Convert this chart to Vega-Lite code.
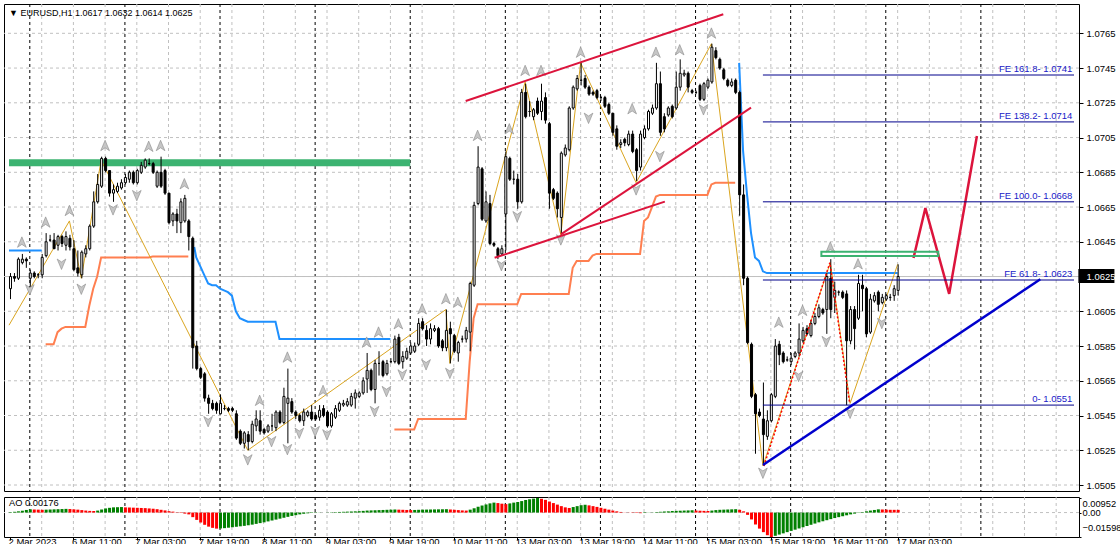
{
"$schema": "https://vega.github.io/schema/vega-lite/v6.json",
"padding": {"left": 3, "top": 3, "right": 0, "bottom": 0},
"background": "white",
"config": {
  "view": {"stroke": "#000000", "strokeWidth": 1},
  "concat": {"spacing": 4},
  "axis": {"labelFont": "Liberation Sans", "labelFontSize": 9.5, "labelColor": "#000000", "tickColor": "#000000", "domain": false, "grid": false, "labelFlush": false, "labelOverlap": false, "labelBound": false}
},
"resolve": {"scale": {"x": "independent", "y": "independent", "color": "independent"}},
"datasets": {
  "hgrid": [{"p":1.0505},{"p":1.0525},{"p":1.0545},{"p":1.0565},{"p":1.0585},{"p":1.0605},{"p":1.0625},{"p":1.0645},{"p":1.0665},{"p":1.0685},{"p":1.0705},{"p":1.0725},{"p":1.0745},{"p":1.0765}],
  "vgrid": [{"i":8},{"i":16},{"i":24},{"i":32},{"i":40},{"i":48},{"i":56},{"i":64},{"i":72},{"i":80},{"i":88},{"i":96},{"i":104},{"i":112},{"i":120},{"i":128},{"i":136},{"i":144},{"i":152},{"i":160},{"i":168},{"i":176},{"i":184},{"i":192},{"i":200},{"i":208},{"i":216},{"i":224},{"i":232},{"i":240},{"i":248},{"i":256},{"i":264}],
  "sep": [{"i":5},{"i":29},{"i":53},{"i":77},{"i":101},{"i":125},{"i":149},{"i":173},{"i":197},{"i":221},{"i":245}],
  "candles": [
{"i":0,"o":1.0618,"h":1.0627,"l":1.0612,"c":1.0625},
{"i":1,"o":1.0625,"h":1.0627,"l":1.0622,"c":1.0624},
{"i":2,"o":1.0624,"h":1.0636,"l":1.0623,"c":1.0635},
{"i":3,"o":1.0633,"h":1.0638,"l":1.0632,"c":1.0635},
{"i":4,"o":1.0635,"h":1.0636,"l":1.0630,"c":1.0634},
{"i":5,"o":1.0624,"h":1.0629,"l":1.0619,"c":1.0627},
{"i":6,"o":1.0627,"h":1.0628,"l":1.0624,"c":1.0625},
{"i":7,"o":1.0626,"h":1.0627,"l":1.0624,"c":1.0626},
{"i":8,"o":1.0626,"h":1.0638,"l":1.0624,"c":1.0636},
{"i":9,"o":1.0637,"h":1.0650,"l":1.0636,"c":1.0645},
{"i":10,"o":1.0646,"h":1.0649,"l":1.0645,"c":1.0646},
{"i":11,"o":1.0646,"h":1.0650,"l":1.0641,"c":1.0641},
{"i":12,"o":1.0643,"h":1.0649,"l":1.0640,"c":1.0648},
{"i":13,"o":1.0648,"h":1.0649,"l":1.0642,"c":1.0644},
{"i":14,"o":1.0643,"h":1.0651,"l":1.0640,"c":1.0648},
{"i":15,"o":1.0647,"h":1.0649,"l":1.0640,"c":1.0642},
{"i":16,"o":1.0641,"h":1.0646,"l":1.0628,"c":1.0629},
{"i":17,"o":1.0630,"h":1.0640,"l":1.0625,"c":1.0627},
{"i":18,"o":1.0626,"h":1.0640,"l":1.0624,"c":1.0639},
{"i":19,"o":1.0638,"h":1.0643,"l":1.0636,"c":1.0641},
{"i":20,"o":1.0641,"h":1.0655,"l":1.0640,"c":1.0654},
{"i":21,"o":1.0654,"h":1.0674,"l":1.0653,"c":1.0668},
{"i":22,"o":1.0668,"h":1.0684,"l":1.0667,"c":1.0678},
{"i":23,"o":1.0677,"h":1.0694,"l":1.0676,"c":1.0693},
{"i":24,"o":1.0693,"h":1.0694,"l":1.0685,"c":1.0686},
{"i":25,"o":1.0686,"h":1.0686,"l":1.0671,"c":1.0673},
{"i":26,"o":1.0673,"h":1.0678,"l":1.0668,"c":1.0675},
{"i":27,"o":1.0674,"h":1.0679,"l":1.0673,"c":1.0677},
{"i":28,"o":1.0676,"h":1.0681,"l":1.0675,"c":1.0679},
{"i":29,"o":1.0679,"h":1.0684,"l":1.0678,"c":1.0682},
{"i":30,"o":1.0681,"h":1.0686,"l":1.0679,"c":1.0685},
{"i":31,"o":1.0685,"h":1.0686,"l":1.0678,"c":1.0679},
{"i":32,"o":1.0679,"h":1.0687,"l":1.0678,"c":1.0686},
{"i":33,"o":1.0685,"h":1.0691,"l":1.0684,"c":1.0689},
{"i":34,"o":1.0688,"h":1.0693,"l":1.0687,"c":1.0692},
{"i":35,"o":1.0690,"h":1.0693,"l":1.0689,"c":1.0690},
{"i":36,"o":1.0690,"h":1.0691,"l":1.0684,"c":1.0685},
{"i":37,"o":1.0677,"h":1.0686,"l":1.0676,"c":1.0685},
{"i":38,"o":1.0685,"h":1.0694,"l":1.0676,"c":1.0677},
{"i":39,"o":1.0686,"h":1.0687,"l":1.0672,"c":1.0673},
{"i":40,"o":1.0673,"h":1.0673,"l":1.0655,"c":1.0656},
{"i":41,"o":1.0657,"h":1.0662,"l":1.0654,"c":1.0661},
{"i":42,"o":1.0661,"h":1.0664,"l":1.0650,"c":1.0657},
{"i":43,"o":1.0656,"h":1.0670,"l":1.0650,"c":1.0668},
{"i":44,"o":1.0657,"h":1.0672,"l":1.0656,"c":1.0670},
{"i":45,"o":1.0657,"h":1.0658,"l":1.0640,"c":1.0648},
{"i":46,"o":1.0647,"h":1.0648,"l":1.0572,"c":1.0584},
{"i":47,"o":1.0585,"h":1.0588,"l":1.0571,"c":1.0572},
{"i":48,"o":1.0572,"h":1.0573,"l":1.0566,"c":1.0567},
{"i":49,"o":1.0569,"h":1.0570,"l":1.0553,"c":1.0555},
{"i":50,"o":1.0555,"h":1.0557,"l":1.0546,"c":1.0552},
{"i":51,"o":1.0552,"h":1.0554,"l":1.0548,"c":1.0549},
{"i":52,"o":1.0552,"h":1.0553,"l":1.0546,"c":1.0548},
{"i":53,"o":1.0546,"h":1.0557,"l":1.0546,"c":1.0552},
{"i":54,"o":1.0549,"h":1.0551,"l":1.0548,"c":1.0549},
{"i":55,"o":1.0549,"h":1.0550,"l":1.0547,"c":1.0548},
{"i":56,"o":1.0549,"h":1.0550,"l":1.0547,"c":1.0548},
{"i":57,"o":1.0546,"h":1.0548,"l":1.0531,"c":1.0532},
{"i":58,"o":1.0536,"h":1.0537,"l":1.0528,"c":1.0529},
{"i":59,"o":1.0529,"h":1.0536,"l":1.0526,"c":1.0535},
{"i":60,"o":1.0534,"h":1.0536,"l":1.0525,"c":1.0530},
{"i":61,"o":1.0530,"h":1.0542,"l":1.0529,"c":1.0540},
{"i":62,"o":1.0539,"h":1.0548,"l":1.0536,"c":1.0543},
{"i":63,"o":1.0542,"h":1.0548,"l":1.0534,"c":1.0536},
{"i":64,"o":1.0537,"h":1.0538,"l":1.0534,"c":1.0535},
{"i":65,"o":1.0536,"h":1.0540,"l":1.0535,"c":1.0539},
{"i":66,"o":1.0539,"h":1.0546,"l":1.0536,"c":1.0539},
{"i":67,"o":1.0538,"h":1.0548,"l":1.0536,"c":1.0547},
{"i":68,"o":1.0547,"h":1.0548,"l":1.0540,"c":1.0541},
{"i":69,"o":1.0541,"h":1.0561,"l":1.0540,"c":1.0556},
{"i":70,"o":1.0552,"h":1.0572,"l":1.0529,"c":1.0555},
{"i":71,"o":1.0553,"h":1.0555,"l":1.0546,"c":1.0547},
{"i":72,"o":1.0547,"h":1.0548,"l":1.0543,"c":1.0545},
{"i":73,"o":1.0545,"h":1.0546,"l":1.0541,"c":1.0542},
{"i":74,"o":1.0542,"h":1.0549,"l":1.0539,"c":1.0547},
{"i":75,"o":1.0545,"h":1.0548,"l":1.0544,"c":1.0547},
{"i":76,"o":1.0547,"h":1.0551,"l":1.0542,"c":1.0543},
{"i":77,"o":1.0545,"h":1.0546,"l":1.0542,"c":1.0543},
{"i":78,"o":1.0544,"h":1.0551,"l":1.0542,"c":1.0548},
{"i":79,"o":1.0549,"h":1.0551,"l":1.0544,"c":1.0545},
{"i":80,"o":1.0547,"h":1.0548,"l":1.0538,"c":1.0539},
{"i":81,"o":1.0539,"h":1.0547,"l":1.0538,"c":1.0546},
{"i":82,"o":1.0544,"h":1.0551,"l":1.0543,"c":1.0549},
{"i":83,"o":1.0548,"h":1.0553,"l":1.0547,"c":1.0552},
{"i":84,"o":1.0551,"h":1.0554,"l":1.0550,"c":1.0552},
{"i":85,"o":1.0551,"h":1.0555,"l":1.0550,"c":1.0553},
{"i":86,"o":1.0551,"h":1.0558,"l":1.0550,"c":1.0556},
{"i":87,"o":1.0555,"h":1.0560,"l":1.0549,"c":1.0558},
{"i":88,"o":1.0556,"h":1.0559,"l":1.0555,"c":1.0558},
{"i":89,"o":1.0558,"h":1.0567,"l":1.0557,"c":1.0565},
{"i":90,"o":1.0566,"h":1.0581,"l":1.0558,"c":1.0571},
{"i":91,"o":1.0571,"h":1.0572,"l":1.0559,"c":1.0560},
{"i":92,"o":1.0560,"h":1.0577,"l":1.0552,"c":1.0575},
{"i":93,"o":1.0575,"h":1.0582,"l":1.0568,"c":1.0575},
{"i":94,"o":1.0576,"h":1.0577,"l":1.0567,"c":1.0568},
{"i":95,"o":1.0569,"h":1.0577,"l":1.0568,"c":1.0575},
{"i":96,"o":1.0576,"h":1.0578,"l":1.0575,"c":1.0576},
{"i":97,"o":1.0576,"h":1.0591,"l":1.0575,"c":1.0589},
{"i":98,"o":1.0590,"h":1.0592,"l":1.0574,"c":1.0575},
{"i":99,"o":1.0576,"h":1.0582,"l":1.0572,"c":1.0579},
{"i":100,"o":1.0578,"h":1.0584,"l":1.0577,"c":1.0582},
{"i":101,"o":1.0581,"h":1.0587,"l":1.0580,"c":1.0585},
{"i":102,"o":1.0582,"h":1.0587,"l":1.0581,"c":1.0585},
{"i":103,"o":1.0586,"h":1.0601,"l":1.0585,"c":1.0598},
{"i":104,"o":1.0599,"h":1.0601,"l":1.0594,"c":1.0595},
{"i":105,"o":1.0594,"h":1.0597,"l":1.0585,"c":1.0589},
{"i":106,"o":1.0589,"h":1.0598,"l":1.0586,"c":1.0595},
{"i":107,"o":1.0594,"h":1.0597,"l":1.0593,"c":1.0595},
{"i":108,"o":1.0595,"h":1.0596,"l":1.0584,"c":1.0585},
{"i":109,"o":1.0588,"h":1.0589,"l":1.0582,"c":1.0584},
{"i":110,"o":1.0584,"h":1.0606,"l":1.0582,"c":1.0594},
{"i":111,"o":1.0595,"h":1.0599,"l":1.0575,"c":1.0592},
{"i":112,"o":1.0591,"h":1.0592,"l":1.0581,"c":1.0582},
{"i":113,"o":1.0581,"h":1.0588,"l":1.0576,"c":1.0587},
{"i":114,"o":1.0589,"h":1.0591,"l":1.0587,"c":1.0589},
{"i":115,"o":1.0589,"h":1.0596,"l":1.0587,"c":1.0594},
{"i":116,"o":1.0593,"h":1.0622,"l":1.0582,"c":1.0621},
{"i":117,"o":1.0620,"h":1.0668,"l":1.0619,"c":1.0666},
{"i":118,"o":1.0667,"h":1.0700,"l":1.0666,"c":1.0688},
{"i":119,"o":1.0687,"h":1.0688,"l":1.0657,"c":1.0658},
{"i":120,"o":1.0657,"h":1.0674,"l":1.0656,"c":1.0668},
{"i":121,"o":1.0667,"h":1.0672,"l":1.0643,"c":1.0644},
{"i":122,"o":1.0644,"h":1.0645,"l":1.0642,"c":1.0643},
{"i":123,"o":1.0641,"h":1.0642,"l":1.0635,"c":1.0637},
{"i":124,"o":1.0638,"h":1.0643,"l":1.0637,"c":1.0641},
{"i":125,"o":1.0661,"h":1.0697,"l":1.0640,"c":1.0694},
{"i":126,"o":1.0693,"h":1.0694,"l":1.0680,"c":1.0681},
{"i":127,"o":1.0681,"h":1.0686,"l":1.0678,"c":1.0681},
{"i":128,"o":1.0681,"h":1.0684,"l":1.0664,"c":1.0668},
{"i":129,"o":1.0668,"h":1.0733,"l":1.0667,"c":1.0731},
{"i":130,"o":1.0731,"h":1.0736,"l":1.0716,"c":1.0717},
{"i":131,"o":1.0720,"h":1.0726,"l":1.0717,"c":1.0720},
{"i":132,"o":1.0717,"h":1.0722,"l":1.0715,"c":1.0721},
{"i":133,"o":1.0726,"h":1.0728,"l":1.0718,"c":1.0719},
{"i":134,"o":1.0720,"h":1.0736,"l":1.0715,"c":1.0726},
{"i":135,"o":1.0728,"h":1.0731,"l":1.0713,"c":1.0715},
{"i":136,"o":1.0713,"h":1.0714,"l":1.0664,"c":1.0673},
{"i":137,"o":1.0675,"h":1.0676,"l":1.0669,"c":1.0670},
{"i":138,"o":1.0673,"h":1.0674,"l":1.0659,"c":1.0664},
{"i":139,"o":1.0659,"h":1.0697,"l":1.0650,"c":1.0696},
{"i":140,"o":1.0695,"h":1.0701,"l":1.0694,"c":1.0699},
{"i":141,"o":1.0698,"h":1.0723,"l":1.0697,"c":1.0722},
{"i":142,"o":1.0722,"h":1.0735,"l":1.0721,"c":1.0734},
{"i":143,"o":1.0733,"h":1.0741,"l":1.0732,"c":1.0739},
{"i":144,"o":1.0738,"h":1.0748,"l":1.0735,"c":1.0738},
{"i":145,"o":1.0739,"h":1.0741,"l":1.0733,"c":1.0734},
{"i":146,"o":1.0734,"h":1.0735,"l":1.0729,"c":1.0730},
{"i":147,"o":1.0731,"h":1.0732,"l":1.0729,"c":1.0730},
{"i":148,"o":1.0732,"h":1.0733,"l":1.0727,"c":1.0728},
{"i":149,"o":1.0728,"h":1.0729,"l":1.0726,"c":1.0728},
{"i":150,"o":1.0728,"h":1.0729,"l":1.0722,"c":1.0723},
{"i":151,"o":1.0724,"h":1.0725,"l":1.0718,"c":1.0719},
{"i":152,"o":1.0719,"h":1.0719,"l":1.0706,"c":1.0708},
{"i":153,"o":1.0710,"h":1.0712,"l":1.0698,"c":1.0700},
{"i":154,"o":1.0701,"h":1.0704,"l":1.0699,"c":1.0702},
{"i":155,"o":1.0704,"h":1.0705,"l":1.0700,"c":1.0702},
{"i":156,"o":1.0701,"h":1.0709,"l":1.0700,"c":1.0707},
{"i":157,"o":1.0707,"h":1.0709,"l":1.0696,"c":1.0697},
{"i":158,"o":1.0698,"h":1.0699,"l":1.0680,"c":1.0686},
{"i":159,"o":1.0688,"h":1.0709,"l":1.0686,"c":1.0707},
{"i":160,"o":1.0705,"h":1.0712,"l":1.0704,"c":1.0710},
{"i":161,"o":1.0710,"h":1.0721,"l":1.0709,"c":1.0720},
{"i":162,"o":1.0719,"h":1.0724,"l":1.0718,"c":1.0722},
{"i":163,"o":1.0722,"h":1.0748,"l":1.0721,"c":1.0736},
{"i":164,"o":1.0736,"h":1.0743,"l":1.0706,"c":1.0708},
{"i":165,"o":1.0717,"h":1.0719,"l":1.0708,"c":1.0710},
{"i":166,"o":1.0718,"h":1.0723,"l":1.0717,"c":1.0722},
{"i":167,"o":1.0723,"h":1.0724,"l":1.0716,"c":1.0717},
{"i":168,"o":1.0722,"h":1.0743,"l":1.0721,"c":1.0734},
{"i":169,"o":1.0734,"h":1.0750,"l":1.0732,"c":1.0742},
{"i":170,"o":1.0741,"h":1.0744,"l":1.0740,"c":1.0742},
{"i":171,"o":1.0742,"h":1.0743,"l":1.0731,"c":1.0734},
{"i":172,"o":1.0732,"h":1.0733,"l":1.0730,"c":1.0731},
{"i":173,"o":1.0731,"h":1.0732,"l":1.0730,"c":1.0731},
{"i":174,"o":1.0735,"h":1.0736,"l":1.0726,"c":1.0727},
{"i":175,"o":1.0727,"h":1.0737,"l":1.0726,"c":1.0736},
{"i":176,"o":1.0734,"h":1.0739,"l":1.0733,"c":1.0738},
{"i":177,"o":1.0737,"h":1.0759,"l":1.0736,"c":1.0757},
{"i":178,"o":1.0755,"h":1.0757,"l":1.0750,"c":1.0751},
{"i":179,"o":1.0750,"h":1.0751,"l":1.0744,"c":1.0745},
{"i":180,"o":1.0744,"h":1.0745,"l":1.0738,"c":1.0739},
{"i":181,"o":1.0738,"h":1.0739,"l":1.0734,"c":1.0735},
{"i":182,"o":1.0735,"h":1.0739,"l":1.0734,"c":1.0737},
{"i":183,"o":1.0738,"h":1.0739,"l":1.0730,"c":1.0731},
{"i":184,"o":1.0731,"h":1.0732,"l":1.0660,"c":1.0672},
{"i":185,"o":1.0672,"h":1.0678,"l":1.0620,"c":1.0624},
{"i":186,"o":1.0624,"h":1.0625,"l":1.0586,"c":1.0587},
{"i":187,"o":1.0586,"h":1.0587,"l":1.0555,"c":1.0556},
{"i":188,"o":1.0557,"h":1.0558,"l":1.0523,"c":1.0546},
{"i":189,"o":1.0547,"h":1.0549,"l":1.0544,"c":1.0545},
{"i":190,"o":1.0543,"h":1.0564,"l":1.0517,"c":1.0534},
{"i":191,"o":1.0533,"h":1.0548,"l":1.0531,"c":1.0542},
{"i":192,"o":1.0542,"h":1.0558,"l":1.0541,"c":1.0557},
{"i":193,"o":1.0556,"h":1.0589,"l":1.0555,"c":1.0585},
{"i":194,"o":1.0586,"h":1.0588,"l":1.0574,"c":1.0580},
{"i":195,"o":1.0581,"h":1.0582,"l":1.0575,"c":1.0576},
{"i":196,"o":1.0577,"h":1.0579,"l":1.0576,"c":1.0577},
{"i":197,"o":1.0576,"h":1.0581,"l":1.0574,"c":1.0578},
{"i":198,"o":1.0579,"h":1.0582,"l":1.0578,"c":1.0581},
{"i":199,"o":1.0581,"h":1.0598,"l":1.0579,"c":1.0589},
{"i":200,"o":1.0588,"h":1.0596,"l":1.0587,"c":1.0594},
{"i":201,"o":1.0595,"h":1.0597,"l":1.0591,"c":1.0592},
{"i":202,"o":1.0591,"h":1.0600,"l":1.0590,"c":1.0598},
{"i":203,"o":1.0598,"h":1.0604,"l":1.0597,"c":1.0602},
{"i":204,"o":1.0602,"h":1.0609,"l":1.0601,"c":1.0607},
{"i":205,"o":1.0606,"h":1.0607,"l":1.0603,"c":1.0604},
{"i":206,"o":1.0606,"h":1.0627,"l":1.0592,"c":1.0625},
{"i":207,"o":1.0624,"h":1.0635,"l":1.0601,"c":1.0606},
{"i":208,"o":1.0613,"h":1.0622,"l":1.0604,"c":1.0617},
{"i":209,"o":1.0616,"h":1.0617,"l":1.0614,"c":1.0616},
{"i":210,"o":1.0616,"h":1.0617,"l":1.0612,"c":1.0613},
{"i":211,"o":1.0615,"h":1.0617,"l":1.0551,"c":1.0588},
{"i":212,"o":1.0588,"h":1.0608,"l":1.0586,"c":1.0606},
{"i":213,"o":1.0606,"h":1.0608,"l":1.0583,"c":1.0595},
{"i":214,"o":1.0601,"h":1.0626,"l":1.0600,"c":1.0621},
{"i":215,"o":1.0620,"h":1.0626,"l":1.0605,"c":1.0618},
{"i":216,"o":1.0618,"h":1.0619,"l":1.0590,"c":1.0592},
{"i":217,"o":1.0593,"h":1.0615,"l":1.0592,"c":1.0612},
{"i":218,"o":1.0611,"h":1.0616,"l":1.0610,"c":1.0614},
{"i":219,"o":1.0616,"h":1.0617,"l":1.0605,"c":1.0609},
{"i":220,"o":1.0610,"h":1.0615,"l":1.0609,"c":1.0613},
{"i":221,"o":1.0612,"h":1.0615,"l":1.0611,"c":1.0614},
{"i":222,"o":1.0613,"h":1.0615,"l":1.0611,"c":1.0613},
{"i":223,"o":1.0614,"h":1.0620,"l":1.0611,"c":1.0618},
{"i":224,"o":1.0617,"h":1.0632,"l":1.0614,"c":1.0625}
  ],
  "orange": [
{"s":1,"i":9,"p":1.0586},{"s":1,"i":10,"p":1.0586},{"s":1,"i":11,"p":1.0586},{"s":1,"i":12,"p":1.0593},{"s":1,"i":13,"p":1.0595},{"s":1,"i":14,"p":1.0596},{"s":1,"i":15,"p":1.0596},{"s":1,"i":16,"p":1.0596},{"s":1,"i":17,"p":1.0596},{"s":1,"i":18,"p":1.0596},{"s":1,"i":19,"p":1.0596},{"s":1,"i":20,"p":1.0608},{"s":1,"i":21,"p":1.0618},{"s":1,"i":22,"p":1.0625},{"s":1,"i":23,"p":1.0636},{"s":1,"i":24,"p":1.0636},{"s":1,"i":30,"p":1.0636},{"s":1,"i":35,"p":1.0636},{"s":1,"i":36,"p":1.06365},{"s":1,"i":45,"p":1.06365},
{"s":2,"i":97,"p":1.0537},{"s":2,"i":102,"p":1.0537},{"s":2,"i":103,"p":1.0543},{"s":2,"i":115,"p":1.0543},{"s":2,"i":116,"p":1.0576},{"s":2,"i":117,"p":1.0601},{"s":2,"i":118,"p":1.0609},{"s":2,"i":128,"p":1.0609},{"s":2,"i":129,"p":1.0615},{"s":2,"i":141,"p":1.0615},{"s":2,"i":142,"p":1.0630},{"s":2,"i":143,"p":1.0634},{"s":2,"i":146,"p":1.0634},{"s":2,"i":147,"p":1.0637},{"s":2,"i":148,"p":1.0638},{"s":2,"i":159,"p":1.0638},{"s":2,"i":160,"p":1.0657},{"s":2,"i":161,"p":1.0659},{"s":2,"i":162,"p":1.0665},{"s":2,"i":163,"p":1.0671},{"s":2,"i":164,"p":1.0672},{"s":2,"i":176,"p":1.0672},{"s":2,"i":177,"p":1.0678},{"s":2,"i":178,"p":1.0679},{"s":2,"i":183,"p":1.0679}
  ],
  "blue": [
{"s":1,"i":-0.25,"p":1.0640},{"s":1,"i":8,"p":1.0640},
{"s":2,"i":46.5,"p":1.0642},{"s":2,"i":47,"p":1.0636},{"s":2,"i":48,"p":1.0631},{"s":2,"i":49,"p":1.0626},{"s":2,"i":50,"p":1.0621},{"s":2,"i":51,"p":1.0620},{"s":2,"i":52,"p":1.0620},{"s":2,"i":53,"p":1.0618},{"s":2,"i":54,"p":1.0617},{"s":2,"i":55,"p":1.0616},{"s":2,"i":56,"p":1.0614},{"s":2,"i":57,"p":1.0605},{"s":2,"i":58,"p":1.0601},{"s":2,"i":59,"p":1.0600},{"s":2,"i":60,"p":1.0599},{"s":2,"i":67,"p":1.0599},{"s":2,"i":68,"p":1.0589},{"s":2,"i":96,"p":1.0589},
{"s":3,"i":184,"p":1.0748},{"s":3,"i":185,"p":1.0697},{"s":3,"i":186,"p":1.0672},{"s":3,"i":187,"p":1.0650},{"s":3,"i":188,"p":1.0636},{"s":3,"i":189,"p":1.0634},{"s":3,"i":190,"p":1.0628},{"s":3,"i":191,"p":1.0627},{"s":3,"i":224,"p":1.0627}
  ],
  "zigzag": [
{"i":-0.25,"p":1.0597},{"i":15,"p":1.0657},{"i":18,"p":1.0624},{"i":23,"p":1.0692},{"i":60,"p":1.0525},{"i":110,"p":1.0606},{"i":111,"p":1.0575},{"i":130,"p":1.0737},{"i":139,"p":1.0649},{"i":144,"p":1.0748},{"i":158,"p":1.0679},{"i":177,"p":1.0759},{"i":190,"p":1.0516},{"i":207,"p":1.0633},{"i":212,"p":1.0552},{"i":224,"p":1.0632}
  ],
  "fractals": [
{"i":3,"p":1.06445,"d":"up"},{"i":9,"p":1.0656,"d":"up"},{"i":15,"p":1.06627,"d":"up"},{"i":24,"p":1.07001,"d":"up"},{"i":35,"p":1.06996,"d":"up"},{"i":38,"p":1.07001,"d":"up"},{"i":44,"p":1.06781,"d":"up"},{"i":63,"p":1.05534,"d":"up"},{"i":70,"p":1.05783,"d":"up"},{"i":79,"p":1.05591,"d":"up"},{"i":90,"p":1.05869,"d":"up"},{"i":93,"p":1.05927,"d":"up"},{"i":98,"p":1.05975,"d":"up"},{"i":104,"p":1.06061,"d":"up"},{"i":110,"p":1.06119,"d":"up"},{"i":113,"p":1.06099,"d":"up"},{"i":118,"p":1.07059,"d":"up"},{"i":126,"p":1.07097,"d":"up"},{"i":130,"p":1.07433,"d":"up"},{"i":134,"p":1.07433,"d":"up"},{"i":144,"p":1.07538,"d":"up"},{"i":157,"p":1.07213,"d":"up"},{"i":163,"p":1.07538,"d":"up"},{"i":169,"p":1.07552,"d":"up"},{"i":177,"p":1.07648,"d":"up"},{"i":194,"p":1.05984,"d":"up"},{"i":200,"p":1.06052,"d":"up"},{"i":207,"p":1.06416,"d":"up"},{"i":214,"p":1.0632,"d":"up"},
{"i":5,"p":1.06177,"d":"down"},{"i":13,"p":1.06324,"d":"down"},{"i":18,"p":1.0618,"d":"down"},{"i":26,"p":1.06637,"d":"down"},{"i":32,"p":1.06719,"d":"down"},{"i":50,"p":1.05418,"d":"down"},{"i":60,"p":1.05198,"d":"down"},{"i":66,"p":1.05303,"d":"down"},{"i":70,"p":1.05257,"d":"down"},{"i":73,"p":1.05351,"d":"down"},{"i":77,"p":1.05361,"d":"down"},{"i":80,"p":1.05342,"d":"down"},{"i":92,"p":1.05476,"d":"down"},{"i":95,"p":1.05591,"d":"down"},{"i":99,"p":1.05687,"d":"down"},{"i":105,"p":1.05745,"d":"down"},{"i":111,"p":1.05696,"d":"down"},{"i":124,"p":1.06316,"d":"down"},{"i":128,"p":1.06598,"d":"down"},{"i":139,"p":1.06464,"d":"down"},{"i":146,"p":1.07164,"d":"down"},{"i":158,"p":1.06752,"d":"down"},{"i":164,"p":1.06944,"d":"down"},{"i":175,"p":1.07213,"d":"down"},{"i":190,"p":1.05121,"d":"down"},{"i":199,"p":1.05678,"d":"down"},{"i":206,"p":1.05879,"d":"down"},{"i":212,"p":1.05466,"d":"down"},{"i":220,"p":1.05983,"d":"down"}
  ],
  "ao": [
{"i":0,"v":0.0003,"d":"u"},{"i":1,"v":0.0005,"d":"u"},{"i":2,"v":0.0008,"d":"u"},{"i":3,"v":0.0012,"d":"u"},{"i":4,"v":0.0017,"d":"u"},{"i":5,"v":0.0021,"d":"u"},{"i":6,"v":0.0020,"d":"d"},{"i":7,"v":0.0019,"d":"d"},{"i":8,"v":0.0018,"d":"d"},{"i":9,"v":0.0019,"d":"u"},{"i":10,"v":0.0020,"d":"u"},{"i":11,"v":0.0021,"d":"u"},{"i":12,"v":0.0022,"d":"u"},{"i":13,"v":0.0023,"d":"u"},{"i":14,"v":0.0024,"d":"u"},{"i":15,"v":0.0023,"d":"d"},{"i":16,"v":0.0021,"d":"d"},{"i":17,"v":0.0019,"d":"d"},{"i":18,"v":0.0016,"d":"d"},{"i":19,"v":0.0013,"d":"d"},{"i":20,"v":0.0011,"d":"d"},{"i":21,"v":0.0010,"d":"d"},{"i":22,"v":0.0013,"d":"u"},{"i":23,"v":0.0020,"d":"u"},{"i":24,"v":0.0027,"d":"u"},{"i":25,"v":0.0031,"d":"u"},{"i":26,"v":0.0034,"d":"u"},{"i":27,"v":0.0035,"d":"u"},{"i":28,"v":0.0036,"d":"u"},{"i":29,"v":0.0034,"d":"d"},{"i":30,"v":0.0033,"d":"d"},{"i":31,"v":0.0032,"d":"d"},{"i":32,"v":0.0031,"d":"d"},{"i":33,"v":0.0030,"d":"d"},{"i":34,"v":0.0029,"d":"d"},{"i":35,"v":0.0027,"d":"d"},{"i":36,"v":0.0025,"d":"d"},{"i":37,"v":0.0022,"d":"d"},{"i":38,"v":0.0018,"d":"d"},{"i":39,"v":0.0014,"d":"d"},{"i":40,"v":0.0009,"d":"d"},{"i":41,"v":0.0006,"d":"d"},{"i":42,"v":0.0002,"d":"d"},{"i":43,"v":-0.0003,"d":"d"},{"i":44,"v":-0.0007,"d":"d"},{"i":45,"v":-0.0012,"d":"d"},{"i":46,"v":-0.0030,"d":"d"},{"i":47,"v":-0.0048,"d":"d"},{"i":48,"v":-0.0065,"d":"d"},{"i":49,"v":-0.0080,"d":"d"},{"i":50,"v":-0.0092,"d":"d"},{"i":51,"v":-0.0100,"d":"d"},{"i":52,"v":-0.0105,"d":"d"},{"i":53,"v":-0.0104,"d":"u"},{"i":54,"v":-0.0102,"d":"u"},{"i":55,"v":-0.0099,"d":"u"},{"i":56,"v":-0.0096,"d":"u"},{"i":57,"v":-0.0093,"d":"u"},{"i":58,"v":-0.0090,"d":"u"},{"i":59,"v":-0.0087,"d":"u"},{"i":60,"v":-0.0083,"d":"u"},{"i":61,"v":-0.0079,"d":"u"},{"i":62,"v":-0.0074,"d":"u"},{"i":63,"v":-0.0069,"d":"u"},{"i":64,"v":-0.0064,"d":"u"},{"i":65,"v":-0.0058,"d":"u"},{"i":66,"v":-0.0052,"d":"u"},{"i":67,"v":-0.0046,"d":"u"},{"i":68,"v":-0.0040,"d":"u"},{"i":69,"v":-0.0034,"d":"u"},{"i":70,"v":-0.0028,"d":"u"},{"i":71,"v":-0.0022,"d":"u"},{"i":72,"v":-0.0017,"d":"u"},{"i":73,"v":-0.0012,"d":"u"},{"i":74,"v":-0.0008,"d":"u"},{"i":75,"v":-0.0005,"d":"u"},{"i":76,"v":-0.0003,"d":"u"},{"i":77,"v":-0.0002,"d":"u"},{"i":78,"v":-0.0001,"d":"u"},{"i":79,"v":0.00002,"d":"u"},{"i":80,"v":0.0001,"d":"u"},{"i":81,"v":0.0002,"d":"u"},{"i":82,"v":0.0003,"d":"u"},{"i":83,"v":0.0004,"d":"u"},{"i":84,"v":0.0005,"d":"u"},{"i":85,"v":0.0006,"d":"u"},{"i":86,"v":0.0007,"d":"u"},{"i":87,"v":0.0008,"d":"u"},{"i":88,"v":0.0009,"d":"u"},{"i":89,"v":0.0011,"d":"u"},{"i":90,"v":0.0013,"d":"u"},{"i":91,"v":0.0014,"d":"u"},{"i":92,"v":0.0015,"d":"u"},{"i":93,"v":0.0016,"d":"u"},{"i":94,"v":0.0017,"d":"u"},{"i":95,"v":0.0018,"d":"u"},{"i":96,"v":0.0019,"d":"u"},{"i":97,"v":0.0020,"d":"u"},{"i":98,"v":0.0019,"d":"d"},{"i":99,"v":0.0018,"d":"d"},{"i":100,"v":0.0017,"d":"d"},{"i":101,"v":0.0016,"d":"d"},{"i":102,"v":0.0017,"d":"u"},{"i":103,"v":0.0018,"d":"u"},{"i":104,"v":0.0019,"d":"u"},{"i":105,"v":0.00195,"d":"u"},{"i":106,"v":0.0020,"d":"u"},{"i":107,"v":0.00205,"d":"u"},{"i":108,"v":0.0021,"d":"u"},{"i":109,"v":0.00215,"d":"u"},{"i":110,"v":0.0022,"d":"u"},{"i":111,"v":0.0020,"d":"d"},{"i":112,"v":0.0018,"d":"d"},{"i":113,"v":0.0016,"d":"d"},{"i":114,"v":0.0014,"d":"d"},{"i":115,"v":0.0013,"d":"d"},{"i":116,"v":0.0019,"d":"u"},{"i":117,"v":0.0028,"d":"u"},{"i":118,"v":0.0038,"d":"u"},{"i":119,"v":0.0046,"d":"u"},{"i":120,"v":0.0053,"d":"u"},{"i":121,"v":0.0060,"d":"u"},{"i":122,"v":0.0065,"d":"u"},{"i":123,"v":0.0062,"d":"d"},{"i":124,"v":0.0058,"d":"d"},{"i":125,"v":0.0055,"d":"d"},{"i":126,"v":0.0060,"d":"u"},{"i":127,"v":0.0065,"d":"u"},{"i":128,"v":0.0069,"d":"u"},{"i":129,"v":0.0075,"d":"u"},{"i":130,"v":0.0082,"d":"u"},{"i":131,"v":0.0087,"d":"u"},{"i":132,"v":0.0091,"d":"u"},{"i":133,"v":0.00952,"d":"u"},{"i":134,"v":0.0090,"d":"d"},{"i":135,"v":0.0083,"d":"d"},{"i":136,"v":0.0072,"d":"d"},{"i":137,"v":0.0062,"d":"d"},{"i":138,"v":0.0052,"d":"d"},{"i":139,"v":0.0042,"d":"d"},{"i":140,"v":0.0034,"d":"d"},{"i":141,"v":0.0030,"d":"d"},{"i":142,"v":0.0036,"d":"u"},{"i":143,"v":0.0042,"d":"u"},{"i":144,"v":0.0048,"d":"u"},{"i":145,"v":0.0051,"d":"u"},{"i":146,"v":0.0047,"d":"d"},{"i":147,"v":0.0042,"d":"d"},{"i":148,"v":0.0037,"d":"d"},{"i":149,"v":0.0031,"d":"d"},{"i":150,"v":0.0025,"d":"d"},{"i":151,"v":0.0019,"d":"d"},{"i":152,"v":0.0013,"d":"d"},{"i":153,"v":0.0008,"d":"d"},{"i":154,"v":0.0004,"d":"d"},{"i":155,"v":0.0001,"d":"d"},{"i":156,"v":-0.0001,"d":"d"},{"i":157,"v":-0.0002,"d":"d"},{"i":158,"v":-0.0003,"d":"d"},{"i":159,"v":-0.0004,"d":"d"},{"i":160,"v":-0.0003,"d":"u"},{"i":161,"v":-0.0001,"d":"u"},{"i":162,"v":0.0001,"d":"u"},{"i":163,"v":0.0003,"d":"u"},{"i":164,"v":0.0005,"d":"u"},{"i":165,"v":0.0007,"d":"u"},{"i":166,"v":0.0008,"d":"u"},{"i":167,"v":0.0010,"d":"u"},{"i":168,"v":0.0011,"d":"u"},{"i":169,"v":0.0012,"d":"u"},{"i":170,"v":0.0013,"d":"u"},{"i":171,"v":0.0014,"d":"u"},{"i":172,"v":0.0015,"d":"u"},{"i":173,"v":0.0013,"d":"d"},{"i":174,"v":0.0012,"d":"d"},{"i":175,"v":0.0011,"d":"d"},{"i":176,"v":0.0010,"d":"d"},{"i":177,"v":0.0013,"d":"u"},{"i":178,"v":0.0016,"d":"u"},{"i":179,"v":0.0018,"d":"u"},{"i":180,"v":0.0019,"d":"u"},{"i":181,"v":0.0020,"d":"u"},{"i":182,"v":0.0021,"d":"u"},{"i":183,"v":0.0022,"d":"u"},{"i":184,"v":0.0018,"d":"d"},{"i":185,"v":0.0008,"d":"d"},{"i":186,"v":-0.0015,"d":"d"},{"i":187,"v":-0.0045,"d":"d"},{"i":188,"v":-0.0078,"d":"d"},{"i":189,"v":-0.0105,"d":"d"},{"i":190,"v":-0.0128,"d":"d"},{"i":191,"v":-0.0148,"d":"d"},{"i":192,"v":-0.01598,"d":"d"},{"i":193,"v":-0.0152,"d":"u"},{"i":194,"v":-0.0144,"d":"u"},{"i":195,"v":-0.0136,"d":"u"},{"i":196,"v":-0.0128,"d":"u"},{"i":197,"v":-0.0120,"d":"u"},{"i":198,"v":-0.0112,"d":"u"},{"i":199,"v":-0.0104,"d":"u"},{"i":200,"v":-0.0096,"d":"u"},{"i":201,"v":-0.0088,"d":"u"},{"i":202,"v":-0.0080,"d":"u"},{"i":203,"v":-0.0072,"d":"u"},{"i":204,"v":-0.0064,"d":"u"},{"i":205,"v":-0.0057,"d":"u"},{"i":206,"v":-0.0050,"d":"u"},{"i":207,"v":-0.0043,"d":"u"},{"i":208,"v":-0.0036,"d":"u"},{"i":209,"v":-0.0030,"d":"u"},{"i":210,"v":-0.0024,"d":"u"},{"i":211,"v":-0.0018,"d":"u"},{"i":212,"v":-0.0012,"d":"u"},{"i":213,"v":-0.0007,"d":"u"},{"i":214,"v":-0.0002,"d":"u"},{"i":215,"v":0.0003,"d":"u"},{"i":216,"v":0.0008,"d":"u"},{"i":217,"v":0.0013,"d":"u"},{"i":218,"v":0.0017,"d":"u"},{"i":219,"v":0.0021,"d":"u"},{"i":220,"v":0.0020,"d":"d"},{"i":221,"v":0.0019,"d":"d"},{"i":222,"v":0.0018,"d":"d"},{"i":223,"v":0.00178,"d":"d"},{"i":224,"v":0.00176,"d":"d"}
  ]
},
"vconcat": [
{
  "width": 1075, "height": 487,
  "title": {"text": "▼ EURUSD,H1  1.0617 1.0632 1.0614 1.0625", "anchor": "start", "frame": "group", "offset": -14, "dx": 5, "font": "Liberation Sans", "fontSize": 9, "fontWeight": "normal", "color": "#000000"},
  "layer": [
    {"data": {"name": "hgrid"}, "mark": {"type": "rule", "color": "#c0c0c0", "strokeDash": [3, 3], "strokeWidth": 1},
     "encoding": {"y": {"field": "p", "type": "quantitative", "title": null, "scale": {"domain": [1.050155, 1.078187], "nice": false, "zero": false},
       "axis": {"orient": "right", "values": [1.0505, 1.0525, 1.0545, 1.0565, 1.0585, 1.0605, 1.0625, 1.0645, 1.0665, 1.0685, 1.0705, 1.0725, 1.0745, 1.0765], "tickCount": 30, "format": ".4f", "tickSize": 4, "labelPadding": 3, "zindex": 1, "title": null, "labelOverlap": false, "labelFontSize": 9.5,
         "labelColor": {"condition": {"test": "abs(datum.value - 1.0625) < 0.00001", "value": "#ffffff"}, "value": "#000000"}}}}},
    {"data": {"name": "vgrid"}, "mark": {"type": "rule", "color": "#c0c0c0", "strokeDash": [3, 3], "strokeWidth": 1},
     "encoding": {"x": {"field": "i", "type": "quantitative", "title": null, "axis": null, "scale": {"domain": [-0.25, 268.5], "nice": false, "zero": false}}}},
    {"data": {"name": "sep"}, "mark": {"type": "rule", "color": "#000000", "strokeDash": [3, 3], "strokeWidth": 1},
     "encoding": {"x": {"field": "i", "type": "quantitative", "title": null, "axis": null}}},
    {"data": {"values": [{"p": 1.0625}]}, "mark": {"type": "rule", "color": "#c0c0c0", "strokeWidth": 1},
     "encoding": {"y": {"field": "p", "type": "quantitative", "title": null}}},
    {"data": {"values": [{"i1": -0.25, "i2": 101, "p": 1.06905}]}, "mark": {"type": "rule", "color": "#3cb371", "strokeWidth": 7},
     "encoding": {"x": {"field": "i1", "type": "quantitative", "title": null, "axis": null}, "x2": {"field": "i2"}, "y": {"field": "p", "type": "quantitative", "title": null}}},
    {"data": {"name": "orange"}, "mark": {"type": "line", "color": "#ff7f50", "strokeWidth": 2},
     "encoding": {"x": {"field": "i", "type": "quantitative", "title": null, "axis": null}, "y": {"field": "p", "type": "quantitative", "title": null}, "detail": {"field": "s", "type": "nominal"}}},
    {"data": {"name": "blue"}, "mark": {"type": "line", "color": "#1e90ff", "strokeWidth": 2},
     "encoding": {"x": {"field": "i", "type": "quantitative", "title": null, "axis": null}, "y": {"field": "p", "type": "quantitative", "title": null}, "detail": {"field": "s", "type": "nominal"}}},
    {"data": {"name": "zigzag"}, "mark": {"type": "line", "color": "#daa520", "strokeWidth": 1},
     "encoding": {"x": {"field": "i", "type": "quantitative", "title": null, "axis": null}, "y": {"field": "p", "type": "quantitative", "title": null}}},
    {"data": {"name": "candles"}, "mark": {"type": "rule", "color": "#000000", "strokeWidth": 1, "xOffset": 0.5},
     "encoding": {"x": {"field": "i", "type": "quantitative", "title": null, "axis": null}, "y": {"field": "l", "type": "quantitative", "title": null}, "y2": {"field": "h"}}},
    {"data": {"name": "candles"}, "mark": {"type": "bar", "width": 2, "stroke": "#000000", "strokeWidth": 1, "xOffset": 0.5},
     "encoding": {"x": {"field": "i", "type": "quantitative", "title": null, "axis": null}, "y": {"field": "o", "type": "quantitative", "title": null}, "y2": {"field": "c"},
       "fill": {"condition": {"test": "datum.c > datum.o", "value": "#ffffff"}, "value": "#000000"}}},
    {"data": {"name": "fractals"}, "mark": {"type": "point", "filled": true, "size": 135, "stroke": "#8a8a8a", "strokeWidth": 0.6, "fill": "#c6c6c6", "opacity": 1},
     "encoding": {"x": {"field": "i", "type": "quantitative", "title": null, "axis": null}, "y": {"field": "p", "type": "quantitative", "title": null},
       "shape": {"field": "d", "type": "nominal", "legend": null, "scale": {"domain": ["up", "down"], "range": ["M0,-1L0.75,0.8L0,0.3L-0.75,0.8Z", "M0,1L0.75,-0.8L0,-0.3L-0.75,-0.8Z"]}}}},
    {"data": {"values": [{"i1": 115, "p1": 1.0726, "i2": 180, "p2": 1.0776}, {"i1": 139, "p1": 1.06493, "i2": 187, "p2": 1.07222}, {"i1": 122.3, "p1": 1.06358, "i2": 165.25, "p2": 1.06681}]},
     "mark": {"type": "rule", "color": "#dc143c", "strokeWidth": 2},
     "encoding": {"x": {"field": "i1", "type": "quantitative", "title": null, "axis": null}, "x2": {"field": "i2"}, "y": {"field": "p1", "type": "quantitative", "title": null}, "y2": {"field": "p2"}}},
    {"data": {"values": [{"i": 228, "p": 1.06357}, {"i": 231, "p": 1.06644}, {"i": 237, "p": 1.0615}, {"i": 244, "p": 1.07059}]},
     "mark": {"type": "line", "color": "#dc143c", "strokeWidth": 2.5},
     "encoding": {"x": {"field": "i", "type": "quantitative", "title": null, "axis": null}, "y": {"field": "p", "type": "quantitative", "title": null}}},
    {"data": {"values": [{"i": 190.25, "p": 1.0516}, {"i": 206.9, "p": 1.0633}, {"i": 211.9, "p": 1.0552}]},
     "mark": {"type": "line", "color": "#ff0000", "strokeWidth": 1.5, "strokeDash": [2, 2]},
     "encoding": {"x": {"field": "i", "type": "quantitative", "title": null, "axis": null}, "y": {"field": "p", "type": "quantitative", "title": null}}},
    {"data": {"values": [{"lv": 1.0741, "t": "FE 161.8- 1.0741"}, {"lv": 1.0714, "t": "FE 138.2- 1.0714"}, {"lv": 1.0668, "t": "FE 100.0- 1.0668"}, {"lv": 1.0623, "t": "FE 61.8- 1.0623"}, {"lv": 1.0551, "t": "0- 1.0551"}]},
     "layer": [
       {"mark": {"type": "rule", "color": "#00008b", "strokeWidth": 1},
        "encoding": {"x": {"datum": 190, "type": "quantitative", "title": null, "axis": null}, "x2": {"datum": 268.5}, "y": {"field": "lv", "type": "quantitative", "title": null}}},
       {"mark": {"type": "text", "align": "right", "baseline": "bottom", "dy": -1, "color": "#2020c8", "font": "Liberation Sans", "fontSize": 9.5},
        "encoding": {"x": {"datum": 268.1, "type": "quantitative", "title": null, "axis": null}, "y": {"field": "lv", "type": "quantitative", "title": null}, "text": {"field": "t"}}}
     ]},
    {"data": {"values": [{"i1": 190, "p1": 1.05165, "i2": 260, "p2": 1.06234}]},
     "mark": {"type": "rule", "color": "#0000cd", "strokeWidth": 2.5},
     "encoding": {"x": {"field": "i1", "type": "quantitative", "title": null, "axis": null}, "x2": {"field": "i2"}, "y": {"field": "p1", "type": "quantitative", "title": null}, "y2": {"field": "p2"}}},
    {"data": {"values": [{"i1": 204.75, "i2": 234.25, "p1": 1.06368, "p2": 1.06393}]},
     "mark": {"type": "rect", "fillOpacity": 0, "stroke": "#3cb371", "strokeWidth": 2},
     "encoding": {"x": {"field": "i1", "type": "quantitative", "title": null, "axis": null}, "x2": {"field": "i2"}, "y": {"field": "p1", "type": "quantitative", "title": null}, "y2": {"field": "p2"}}},
    {"data": {"values": [{"v": 1.0625}]},
     "mark": {"type": "rect", "color": "#000000", "clip": false},
     "encoding": {"x": {"datum": 269.6, "type": "quantitative", "title": null, "axis": null}, "x2": {"datum": 278.7}, "y": {"datum": 1.06213, "type": "quantitative", "title": null}, "y2": {"datum": 1.06293}}}
  ]
},
{
  "width": 1075, "height": 40,
  "title": {"text": "AO 0.00176", "anchor": "start", "frame": "group", "offset": -12, "dx": 5, "font": "Liberation Sans", "fontSize": 9.3, "fontWeight": "normal", "color": "#000000"},
  "layer": [
    {"data": {"name": "vgrid"}, "mark": {"type": "rule", "color": "#c0c0c0", "strokeDash": [3, 3], "strokeWidth": 1},
     "encoding": {"x": {"field": "i", "type": "quantitative", "title": null, "scale": {"domain": [-0.25, 268.5], "nice": false, "zero": false},
       "axis": {"orient": "bottom", "values": [0, 16, 32, 48, 64, 80, 96, 112, 128, 144, 160, 176, 192, 208, 224], "tickCount": 40, "title": null, "zindex": 1, "labelOverlap": false, "labelFontSize": 9.5,
         "labelExpr": "['2 Mar 2023','6 Mar 11:00','7 Mar 03:00','7 Mar 19:00','8 Mar 11:00','9 Mar 03:00','9 Mar 19:00','10 Mar 11:00','13 Mar 03:00','13 Mar 19:00','14 Mar 11:00','15 Mar 03:00','15 Mar 19:00','16 Mar 11:00','17 Mar 03:00'][round(datum.value/16)]",
         "labelAlign": "left", "labelBaseline": "top", "tickSize": 3, "labelPadding": -4, "labelOffset": -2}}}},
    {"data": {"name": "sep"}, "mark": {"type": "rule", "color": "#000000", "strokeDash": [3, 3], "strokeWidth": 1},
     "encoding": {"x": {"field": "i", "type": "quantitative", "title": null}}},
    {"data": {"values": [{"z": 0}]}, "mark": {"type": "rule", "color": "#c0c0c0", "strokeDash": [3, 3], "strokeWidth": 1},
     "encoding": {"y": {"field": "z", "type": "quantitative", "title": null, "scale": {"domain": [-0.01598, 0.01017], "nice": false, "zero": false},
       "axis": {"orient": "right", "values": [0.00952, 0, -0.01598], "tickCount": 10, "title": null, "zindex": 1, "tickSize": 2, "labelPadding": 1, "labelOverlap": false, "labelFontSize": 9.3,
         "labelExpr": "datum.value == 0 ? '0.00' : format(datum.value, '.5f')",
         "labelOffset": {"condition": [{"test": "datum.value > 0.005", "value": 6}, {"test": "datum.value < -0.005", "value": -10}], "value": 0}}}}},
    {"data": {"name": "ao"}, "mark": {"type": "bar", "width": 3, "xOffset": 0.5},
     "encoding": {"x": {"field": "i", "type": "quantitative", "title": null}, "y": {"field": "v", "type": "quantitative", "title": null}, "y2": {"datum": 0},
       "color": {"field": "d", "type": "nominal", "legend": null, "scale": {"domain": ["u", "d"], "range": ["#008000", "#ff0000"]}}}}
  ]
}
]
}
